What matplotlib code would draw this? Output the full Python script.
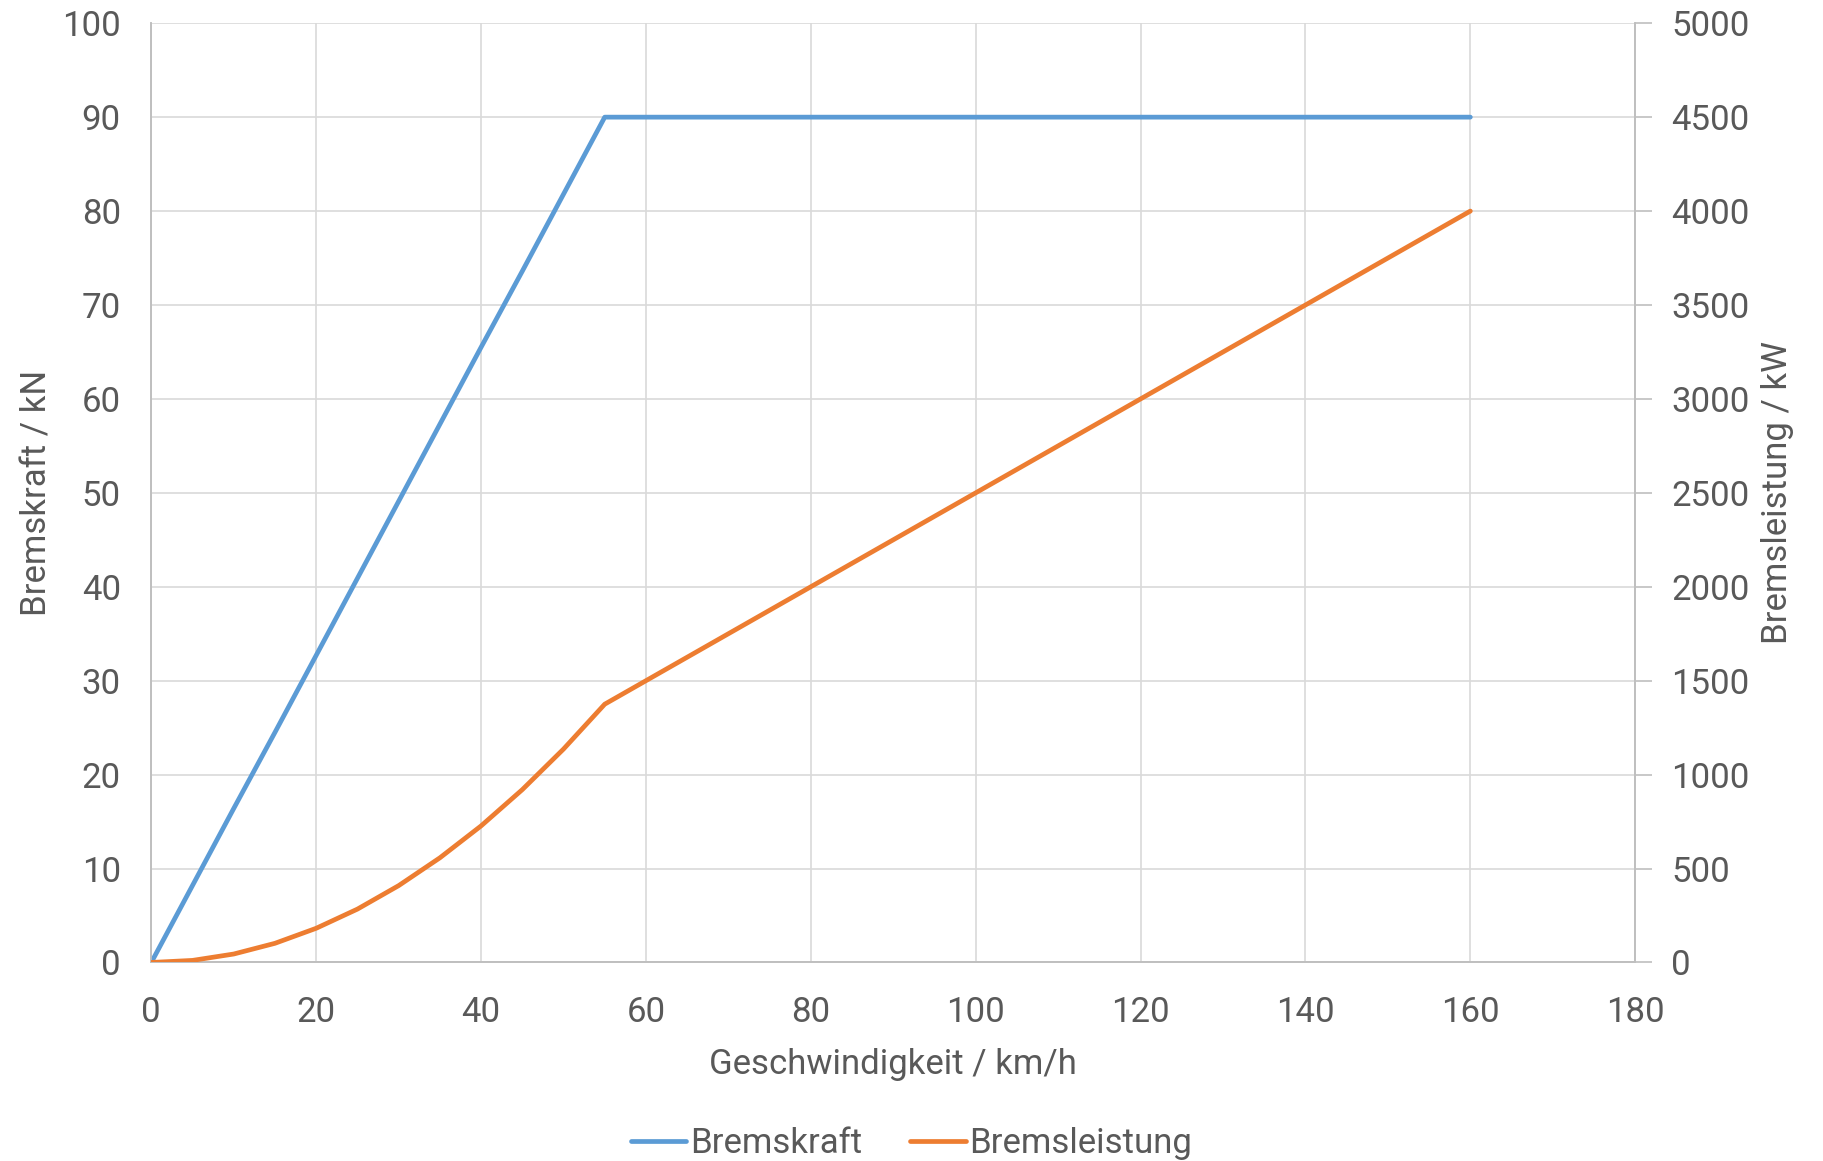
import matplotlib.pyplot as plt

# Geschwindigkeit in km/h
speed = [0, 5, 10, 15, 20, 25, 30, 35, 40, 45, 50, 55,
         60, 70, 80, 90, 100, 110, 120, 130, 140, 150, 160]
# Bremskraft in kN
force = [0, 8.2, 16.4, 24.5, 32.7, 40.9, 49.1, 57.3, 65.5, 73.6, 81.8, 90,
         90, 90, 90, 90, 90, 90, 90, 90, 90, 90, 90]
# Bremsleistung in kW
power = [0, 11, 45, 102, 182, 284, 409, 557, 727, 920, 1136, 1375,
         1500, 1750, 2000, 2250, 2500, 2750, 3000, 3250, 3500, 3750, 4000]

BLUE = "#5b9bd5"
ORANGE = "#ed7d31"
TEXT = "#595959"
GRID = "#d9d9d9"
SPINE = "#bfbfbf"
FS = 25

plt.rcParams["font.family"] = ["Roboto", "DejaVu Sans"]

fig = plt.figure(figsize=(18.23, 11.61), dpi=100)
ax = fig.add_axes([0.083, 0.171, 0.814, 0.809])
ax2 = ax.twinx()

l1, = ax.plot(speed, force, color=BLUE, linewidth=3.4, label="Bremskraft",
              solid_capstyle="round", zorder=3)
l2, = ax2.plot(speed, power, color=ORANGE, linewidth=3.4, label="Bremsleistung",
               solid_capstyle="round", zorder=3)

ax.set_xlim(0, 180)
ax.set_ylim(0, 100)
ax2.set_ylim(0, 5000)
ax.set_xticks(range(0, 181, 20))
ax.set_yticks(range(0, 101, 10))
ax2.set_yticks(range(0, 5001, 500))

ax.grid(True, color=GRID, linewidth=1.2, zorder=0)
ax.set_axisbelow(True)

for a in (ax, ax2):
    a.spines["top"].set_visible(False)
    for side in ("left", "right", "bottom"):
        a.spines[side].set_color(SPINE)
        a.spines[side].set_linewidth(1.2)
    a.tick_params(colors=TEXT, labelsize=FS, length=0)

ax.tick_params(axis="x", pad=24)
ax.tick_params(axis="y", pad=22)
ax2.tick_params(axis="y", length=12, color=SPINE, width=1.2, direction="out", pad=14)

ax.set_xlabel("Geschwindigkeit / km/h", fontsize=FS, color=TEXT, labelpad=14)
ax.set_ylabel("Bremskraft / kN", fontsize=FS, color=TEXT, labelpad=6)
ax2.set_ylabel("Bremsleistung / kW", fontsize=FS, color=TEXT, labelpad=8)

leg = fig.legend(handles=[l1, l2], loc="lower center", ncol=2, frameon=False,
                 fontsize=FS, bbox_to_anchor=(0.5, -0.026), handlelength=1.6,
                 handletextpad=0.1, columnspacing=1.4)
for t in leg.get_texts():
    t.set_color(TEXT)

fig.savefig("out.png", dpi=100)
